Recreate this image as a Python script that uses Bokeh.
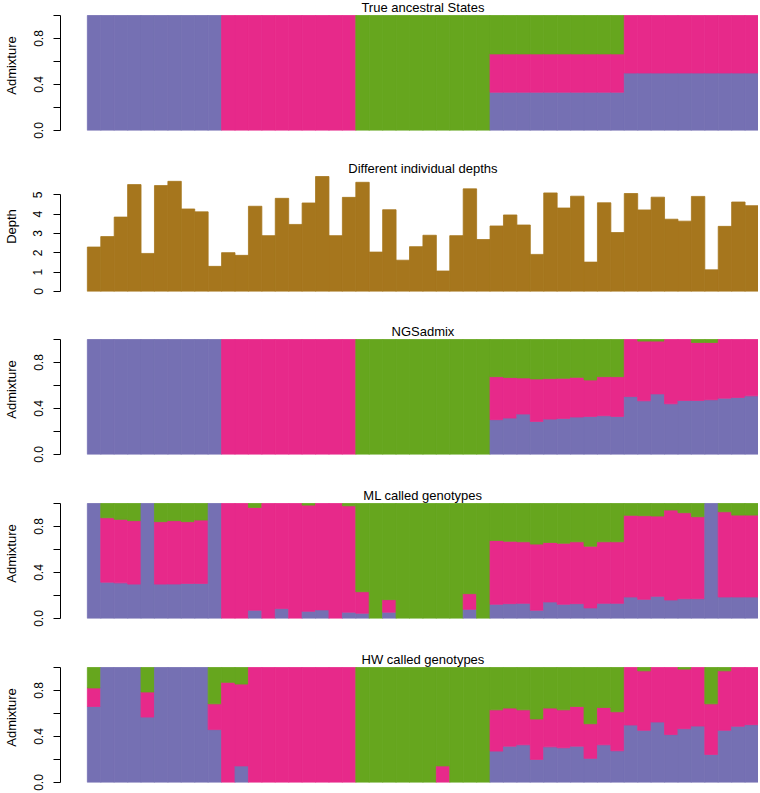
from bokeh.plotting import figure
from bokeh.layouts import column
from bokeh.models import Range1d, FixedTicker, Label
from bokeh.embed import file_html
from bokeh.resources import INLINE

# ---------------- data ----------------
individuals = list(range(1, 51))

depth = [2.30, 2.84, 3.85, 5.53, 1.97, 5.48, 5.70, 4.27, 4.12, 1.30,
         2.01, 1.87, 4.41, 2.89, 4.82, 3.47, 4.58, 5.95, 2.89, 4.87,
         5.65, 2.04, 4.23, 1.62, 2.32, 2.91, 1.06, 2.89, 5.31, 2.69,
         3.39, 3.96, 3.44, 1.92, 5.10, 4.32, 4.93, 1.52, 4.59, 3.05,
         5.07, 4.22, 4.88, 3.74, 3.64, 4.92, 1.12, 3.37, 4.63, 4.44]

# admixture proportions: purple (pop 1), pink (pop 2); green = remainder
true_purple = [1, 1, 1, 1, 1, 1, 1, 1, 1, 1,
               0, 0, 0, 0, 0, 0, 0, 0, 0, 0,
               0, 0, 0, 0, 0, 0, 0, 0, 0, 0,
               0.333, 0.333, 0.333, 0.333, 0.333, 0.333, 0.333, 0.333, 0.333, 0.333,
               0.5, 0.5, 0.5, 0.5, 0.5, 0.5, 0.5, 0.5, 0.5, 0.5]
true_pink = [0, 0, 0, 0, 0, 0, 0, 0, 0, 0,
             1, 1, 1, 1, 1, 1, 1, 1, 1, 1,
             0, 0, 0, 0, 0, 0, 0, 0, 0, 0,
             0.333, 0.333, 0.333, 0.333, 0.333, 0.333, 0.333, 0.333, 0.333, 0.333,
             0.5, 0.5, 0.5, 0.5, 0.5, 0.5, 0.5, 0.5, 0.5, 0.5]

ngs_purple = [1, 1, 1, 1, 1, 1, 1, 1, 1, 1,
              0, 0, 0, 0, 0, 0, 0, 0, 0, 0,
              0, 0, 0, 0, 0, 0, 0, 0, 0, 0,
              0.303, 0.317, 0.352, 0.288, 0.308, 0.314, 0.326, 0.331, 0.337, 0.331,
              0.504, 0.467, 0.527, 0.441, 0.470, 0.470, 0.476, 0.490, 0.496, 0.510]
ngs_pink = [0, 0, 0, 0, 0, 0, 0, 0, 0, 0,
            1, 1, 1, 1, 1, 1, 1, 1, 1, 1,
            0, 0, 0, 0, 0, 0, 0, 0, 0, 0,
            0.374, 0.352, 0.314, 0.369, 0.352, 0.349, 0.345, 0.317, 0.340, 0.346,
            0.496, 0.519, 0.459, 0.559, 0.530, 0.504, 0.498, 0.510, 0.504, 0.490]

ml_purple = [1, 0.316, 0.310, 0.299, 1, 0.299, 0.300, 0.305, 0.305, 1,
             0, 0, 0.072, 0, 0.086, 0, 0.063, 0.075, 0, 0.055,
             0.046, 0, 0.055, 0, 0, 0, 0, 0, 0.080, 0,
             0.124, 0.129, 0.132, 0.072, 0.144, 0.124, 0.129, 0.092, 0.132, 0.132,
             0.187, 0.167, 0.193, 0.161, 0.172, 0.172, 1, 0.187, 0.187, 0.187]
ml_pink = [0, 0.560, 0.552, 0.552, 0, 0.543, 0.551, 0.537, 0.551, 0,
           1, 1, 0.894, 1, 0.914, 1, 0.923, 0.925, 1, 0.925,
           0.187, 0, 0.109, 0, 0, 0, 0, 0, 0.136, 0,
           0.554, 0.543, 0.535, 0.575, 0.517, 0.531, 0.538, 0.537, 0.535, 0.535,
           0.710, 0.727, 0.698, 0.782, 0.748, 0.713, 0, 0.741, 0.712, 0.712]

hw_purple = [0.661, 1, 1, 1, 0.569, 1, 1, 1, 1, 0.460,
             0, 0.144, 0, 0, 0, 0, 0, 0, 0, 0,
             0, 0, 0, 0, 0, 0, 0, 0, 0, 0,
             0.273, 0.316, 0.328, 0.201, 0.310, 0.302, 0.316, 0.210, 0.328, 0.276,
             0.500, 0.454, 0.526, 0.417, 0.468, 0.491, 0.244, 0.454, 0.489, 0.503]
hw_pink = [0.161, 0, 0, 0, 0.218, 0, 0, 0, 0, 0.224,
           0.871, 0.712, 1, 1, 1, 1, 1, 1, 1, 1,
           0, 0, 0, 0, 0, 0, 0.144, 0, 0, 0,
           0.359, 0.331, 0.304, 0.351, 0.337, 0.330, 0.345, 0.301, 0.324, 0.339,
           0.500, 0.517, 0.474, 0.583, 0.518, 0.509, 0.440, 0.517, 0.511, 0.497]

titles = ["True ancestral States", "Different individual depths", "NGSadmix",
          "ML called genotypes", "HW called genotypes"]

# ---------------- style ----------------
PURPLE = "#7570B3"
PINK = "#E7298A"
GREEN = "#66A61E"
BROWN = "#A6761D"
FONT = "Liberation Sans"

W = 758
LEFT = 60
DATA_PX = 115      # pixel height of the data area
TITLE_PX = 15      # pixel room above data for the title
TOP_FRAC = (DATA_PX + TITLE_PX) / DATA_PX
TITLE_RAISE = 8    # px between data top and the title anchor


def base_fig(height, bottom, ytop):
    p = figure(width=W, height=height, output_backend="svg", toolbar_location=None,
               x_range=Range1d(-2, len(individuals)), y_range=Range1d(0, ytop),
               x_axis_location=None, min_border_left=LEFT, min_border_right=0,
               min_border_top=0, min_border_bottom=bottom)
    p.grid.visible = False
    p.outline_line_color = None
    return p


def style_axis(p, label, ticks, overrides, bounds):
    ax = p.yaxis[0]
    ax.ticker = FixedTicker(ticks=ticks)
    ax.major_label_overrides = overrides
    ax.bounds = bounds
    ax.axis_label = label
    ax.axis_label_text_font = FONT
    ax.axis_label_text_font_size = "13px"
    ax.axis_label_text_font_style = "normal"
    ax.axis_label_text_color = "black"
    ax.axis_label_standoff = 12
    ax.major_label_text_font = FONT
    ax.major_label_text_font_size = "12px"
    ax.major_label_text_color = "black"
    ax.major_label_orientation = "vertical"
    ax.major_label_standoff = 11
    ax.major_tick_out = 7
    ax.major_tick_in = 0
    ax.minor_tick_out = 0
    ax.minor_tick_in = 0
    ax.axis_line_color = "black"
    ax.major_tick_line_color = "black"


def add_title(p, text, yval):
    p.add_layout(Label(x=len(individuals) / 2, y=yval, text=text, text_align="center",
                       text_baseline="alphabetic", text_font=FONT, text_font_size="13px",
                       text_color="black"))


def admix_panel(title, purple, pink, height, bottom):
    p = base_fig(height, bottom, TOP_FRAC)
    left, right, bot, top, col = [], [], [], [], []
    for i, ind in enumerate(individuals):
        green = 1 - purple[i] - pink[i]
        y0 = 0.0
        for frac, c in ((purple[i], PURPLE), (pink[i], PINK), (green, GREEN)):
            if frac > 1e-6:
                left.append(ind - 1)
                right.append(ind)
                bot.append(y0)
                top.append(y0 + frac)
                col.append(c)
            y0 += frac
    p.quad(left=left, right=right, bottom=bot, top=top, fill_color=col,
           line_color=col, line_width=0.8)
    style_axis(p, "Admixture", [0, 0.2, 0.4, 0.6, 0.8, 1.0],
               {0: "0.0", 0.2: "", 0.4: "0.4", 0.6: "", 0.8: "0.8", 1.0: ""}, (0, 1))
    add_title(p, title, 1 + TITLE_RAISE / DATA_PX)
    return p


def depth_panel(title, height, bottom):
    dmax = max(depth)
    p = base_fig(height, bottom, dmax * TOP_FRAC)
    p.quad(left=[i - 1 for i in individuals], right=individuals, bottom=0, top=depth,
           fill_color=BROWN, line_color=BROWN, line_width=0.8)
    style_axis(p, "Depth", [0, 1, 2, 3, 4, 5],
               {0: "0", 1: "1", 2: "2", 3: "3", 4: "4", 5: "5"}, (0, 5))
    add_title(p, title, dmax * (1 + TITLE_RAISE / DATA_PX))
    return p


p1 = admix_panel(titles[0], true_purple, true_pink, 161, 31)
p2 = depth_panel(titles[1], 163, 33)
p3 = admix_panel(titles[2], ngs_purple, ngs_pink, 164, 34)
p4 = admix_panel(titles[3], ml_purple, ml_pink, 164, 34)
p5 = admix_panel(titles[4], hw_purple, hw_pink, 140, 10)

layout = column(p1, p2, p3, p4, p5, spacing=0)
open("out.html", "w").write(file_html(layout, INLINE))
